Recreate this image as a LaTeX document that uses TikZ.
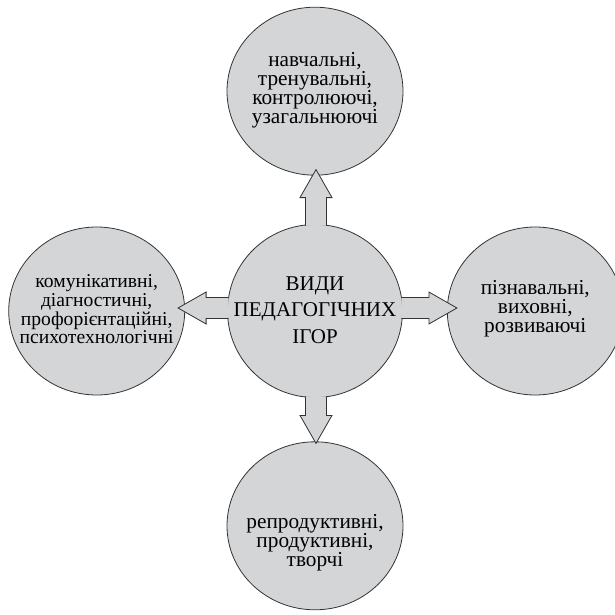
\documentclass[tikz,border=0pt]{standalone}
\usepackage{fontspec}
\setmainfont{Liberation Serif}
\usetikzlibrary{positioning,shapes.geometric,calc}

\definecolor{discgrey}{RGB}{212,213,215}

\tikzset{
  disc/.style={ellipse, draw=black!80, line width=0.8pt, fill=discgrey,
               inner sep=0pt, minimum width=176pt, minimum height=168pt},
  txt/.style={align=center, font=\fontsize{21.3}{18.8}\selectfont},
  % thick block arrow from the given start to the tip
  bigarrow/.style={draw=black!80, line width=0.8pt, fill=discgrey,
    to path={let \p1=(\tikztostart), \p2=(\tikztotarget),
                 \n1={atan2(\y2-\y1,\x2-\x1)} in
      ($(\p1)+(\n1-90:10.5pt)$)
      -- ($(\p2)+(\n1+180:28pt)+(\n1-90:10.5pt)$)
      -- ($(\p2)+(\n1+180:28pt)+(\n1-90:16pt)$)
      -- (\p2)
      -- ($(\p2)+(\n1+180:28pt)+(\n1+90:16pt)$)
      -- ($(\p2)+(\n1+180:28pt)+(\n1+90:10.5pt)$)
      -- ($(\p1)+(\n1+90:10.5pt)$)}}
}

\begin{document}
\begin{tikzpicture}[x=1pt,y=1pt]
  \useasboundingbox (0,0) rectangle (615,-615);

  \node[disc, minimum width=175pt, minimum height=173pt,
        label={[txt, name=hubtext, font=\fontsize{21}{26.5}\selectfont, yshift=1pt]center:{ВИДИ\\ПЕДАГОГІЧНИХ\\ІГОР}}]
        (centre) at (315,-311) {};

  \node[disc, above=48.5pt of centre,
        label={[txt, name=toptext, yshift=1pt]center:{навчальні,\\тренувальні,\\контролюючі,\\узагальнюючі}}] (top) {};
  \node[disc, below=43.5pt of centre,
        label={[txt, name=bottomtext, yshift=-17pt]center:{репродуктивні,\\продуктивні,\\творчі}}] (bottom) {};
  \node[disc, left=42pt of centre,
        label={[txt, name=lefttext, font=\fontsize{19.6}{18.7}\selectfont, yshift=1.5pt]center:{комунікативні,\\діагностичні,\\профорієнтаційні,\\психотехнологічні}}] (left) {};
  \node[disc, right=44pt of centre,
        label={[txt, name=righttext, yshift=2.5pt]center:{пізнавальні,\\виховні,\\розвиваючі}}] (right) {};

  % arrows out of the middle disc
  \draw[bigarrow] ([shift={(1pt,-1.5pt)}]centre.north) to ([shift={(1pt,6pt)}]top.south);
  \draw[bigarrow] ([shift={(1pt,1.5pt)}]centre.south) to ([shift={(1pt,-2pt)}]bottom.north);
  \draw[bigarrow] ([shift={(1.5pt,3pt)}]centre.west) to ([shift={(-7pt,3pt)}]left.east);
  \draw[bigarrow] ([shift={(-1.5pt,3pt)}]centre.east) to ([shift={(10pt,3pt)}]right.west);
\end{tikzpicture}
\end{document}
